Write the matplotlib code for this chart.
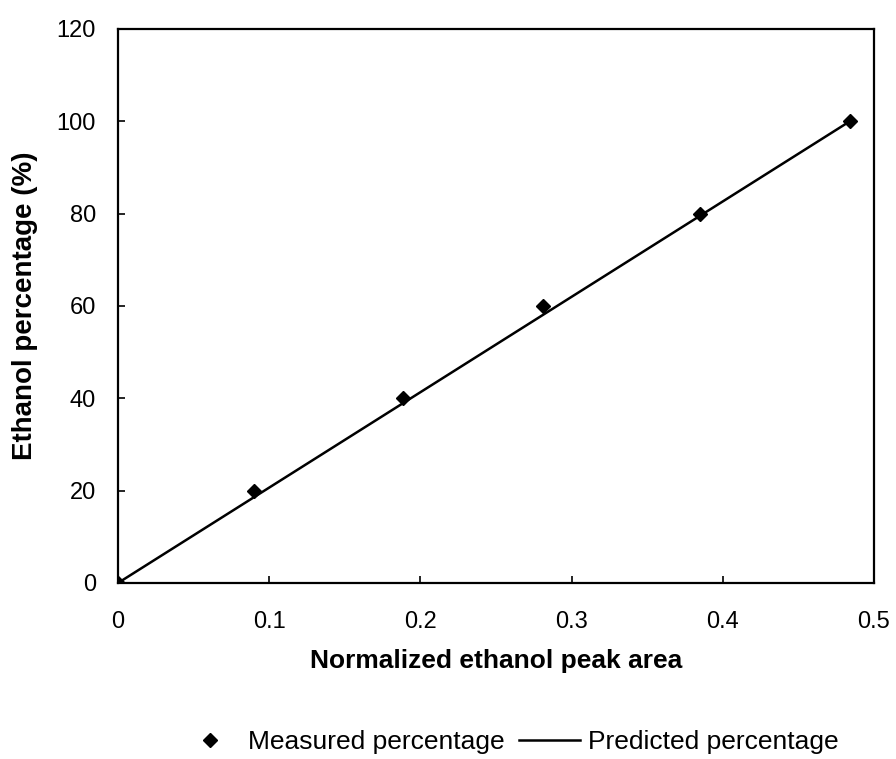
import matplotlib
matplotlib.use("Agg")
from matplotlib import pyplot as plt

plt.rcParams['font.family'] = ['Liberation Sans', 'DejaVu Sans']

# measured calibration points
peak_area = [0, 0.0899, 0.1887, 0.2813, 0.385, 0.484]
measured = [0, 20, 40, 60, 80, 100]

# predicted (fitted) line
fit_area = [0, 0.484]
predicted = [0, 100]

fig = plt.figure(figsize=(8.96, 7.59), dpi=100)
ax = fig.add_axes([0.1317, 0.2319, 0.8437, 0.7299])

ax.plot(peak_area, measured, linestyle='none', marker='D', markersize=7,
        color='black', label='Measured percentage', zorder=3)
ax.plot(fit_area, predicted, color='black', linewidth=1.8,
        label='Predicted percentage', zorder=2)

ax.set_xlim(0, 0.5)
ax.set_ylim(0, 120)
ax.set_xticks([0, 0.1, 0.2, 0.3, 0.4, 0.5])
ax.set_xticklabels(['0', '0.1', '0.2', '0.3', '0.4', '0.5'])
ax.set_yticks([0, 20, 40, 60, 80, 100, 120])

for s in ax.spines.values():
    s.set_linewidth(1.6)
ax.tick_params(axis='x', direction='in', length=5, width=1.2, labelsize=17, pad=20)
ax.tick_params(axis='y', direction='in', length=5, width=1.2, labelsize=17, pad=16)

ax.set_xlabel('Normalized ethanol peak area', fontsize=19, fontweight='bold', labelpad=12)
ax.set_ylabel('Ethanol percentage (%)', fontsize=20, fontweight='bold', labelpad=13)

ax.legend(loc='center', bbox_to_anchor=(0.568, 0.022), bbox_transform=fig.transFigure,
          ncol=2, frameon=False, fontsize=19, handlelength=2.3,
          columnspacing=0.55, handletextpad=0.3)

fig.savefig('out.png', dpi=100)
